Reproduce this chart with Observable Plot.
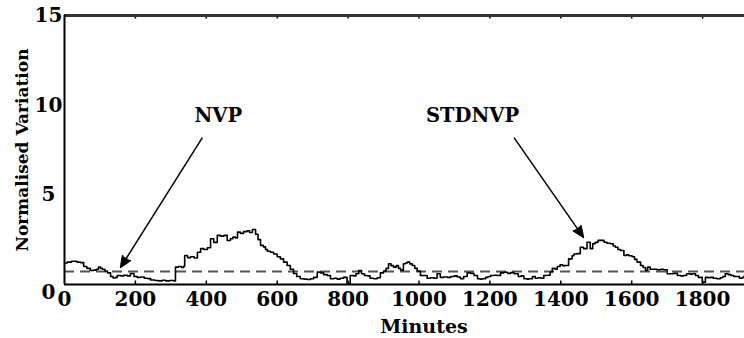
<!DOCTYPE html>
<html>
<head>
<meta charset="utf-8">
<script src="https://cdn.jsdelivr.net/npm/d3@7"></script>
<script src="https://cdn.jsdelivr.net/npm/@observablehq/plot@0.6"></script>
<style>
  html, body { margin: 0; padding: 0; background: #fff; overflow: hidden; }
  #chart { width: 744px; height: 338px; overflow: hidden; }
  #chart svg { max-width: none !important; }
</style>
</head>
<body>
<div id="chart"></div>
<script>
// Minutes at which the normalised variation was read
const minutes = [0,8,20,35,45,54,63,73,82,90,96,102,107,114,121,130,137,144,149,158,167,177,186,196,205,215,225,235,243,255,265,275,285,296,308,313,322,330,336,339,347,356,366,375,384,393,403,412,421,431,440,450,459,468,475,482,488,496,505,515,522,530,539,546,553,561,567,572,581,590,600,609,618,628,637,646,655,665,675,685,694,703,713,722,731,741,750,760,769,778,787,797,806,815,822,830,838,846,855,862,872,882,891,900,907,914,921,928,936,942,948,956,962,967,974,981,988,995,1004,1014,1023,1032,1042,1051,1060,1070,1080,1090,1100,1108,1117,1126,1136,1146,1155,1165,1172,1178,1188,1195,1202,1212,1221,1230,1240,1250,1258,1268,1280,1288,1296,1305,1310,1320,1328,1336,1344,1352,1362,1370,1376,1384,1390,1398,1405,1413,1422,1432,1437,1446,1455,1464,1474,1483,1490,1497,1505,1515,1522,1530,1540,1548,1554,1561,1568,1578,1585,1592,1601,1608,1615,1625,1632,1639,1645,1652,1662,1672,1681,1690,1700,1709,1718,1729,1738,1746,1755,1764,1772,1780,1788,1799,1808,1815,1822,1830,1840,1850,1857,1864,1872,1880,1888,1896,1904,1912,1918];
// NVP values
const nvp = [1.2,1.25,1.3,1.25,1.22,1.0,0.9,0.78,0.8,0.85,0.97,0.9,0.85,0.75,0.65,0.45,0.36,0.4,0.5,0.48,0.52,0.48,0.61,0.45,0.4,0.42,0.35,0.33,0.25,0.22,0.2,0.24,0.2,0.22,0.2,0.97,1.0,0.95,1.02,1.62,1.5,1.55,1.48,1.8,2.0,1.95,2.05,2.55,2.35,2.74,2.7,2.74,2.45,2.55,2.65,2.6,2.92,2.85,2.95,3.0,2.9,3.07,2.8,2.5,2.18,2.1,1.95,1.85,1.8,1.7,1.55,1.43,1.25,1.06,0.85,0.61,0.45,0.32,0.3,0.28,0.32,0.4,0.69,0.65,0.55,0.5,0.32,0.35,0.3,0.35,0.4,0.05,0.5,0.48,0.6,0.78,0.6,0.5,0.48,0.35,0.32,0.38,0.65,0.75,0.9,1.16,1.05,0.97,1.05,0.9,0.8,1.16,1.2,1.25,1.15,1.06,0.9,0.75,0.5,0.5,0.35,0.38,0.35,0.6,0.4,0.42,0.4,0.45,0.48,0.42,0.32,0.45,0.65,0.62,0.5,0.32,0.3,0.32,0.4,0.45,0.5,0.52,0.5,0.65,0.68,0.62,0.66,0.6,0.45,0.48,0.32,0.3,0.32,0.45,0.35,0.38,0.35,0.5,0.52,0.7,0.9,0.85,1.0,1.1,1.05,1.06,1.43,1.6,1.7,1.72,2.08,2.0,2.36,2.0,2.27,2.35,2.46,2.46,2.36,2.3,2.27,2.15,2.08,1.95,1.9,1.62,1.65,1.6,1.55,1.4,1.25,1.06,0.95,0.78,0.97,0.85,0.85,0.82,0.85,0.82,0.6,0.6,0.62,0.5,0.48,0.5,0.6,0.58,0.6,0.5,0.4,0.13,0.4,0.38,0.4,0.35,0.32,0.38,0.45,0.6,0.55,0.5,0.45,0.45,0.35,0.4,0.5];
// STDNVP threshold (constant)
const stdnvp = 0.72;

const xTicks = [0,200,400,600,800,1000,1200,1400,1600,1800];
const yTicks = [5,10,15];

// Annotations
const labelNames = ["NVP", "STDNVP"];
const labelX = [434, 1151];
const labelY = [9.4, 9.4];
const arrowX1 = [388, 1269];
const arrowY1 = [8.16, 8.16];
const arrowX2 = [158, 1464];
const arrowY2 = [0.95, 2.63];

const series = minutes.map((m, i) => ({m, v: nvp[i]}));
const labels = labelNames.map((t, i) => ({t, x: labelX[i], y: labelY[i]}));
const arrows = arrowX1.map((x1, i) => ({x1, y1: arrowY1[i], x2: arrowX2[i], y2: arrowY2[i]}));

const chart = Plot.plot({
  width: 773,
  height: 338,
  marginLeft: 64,
  marginRight: 0,
  marginTop: 15,
  marginBottom: 54,
  style: {fontFamily: "DejaVu Serif", fontWeight: "bold", fontSize: "20px", color: "black", background: "white", maxWidth: "none"},
  x: {domain: [0, 2000]},
  y: {domain: [0, 15]},
  marks: [
    Plot.axisX({ticks: xTicks, tickFormat: d => String(d), tickSize: 0, tickPadding: 7, fontSize: 20, style: "letter-spacing:0.5px"}),
    Plot.axisY({ticks: yTicks, tickFormat: d => String(d), tickSize: 0, tickPadding: 16, textAnchor: "middle", fontSize: 20}),
    Plot.text([0], {x: 0, y: 0, text: d => String(d), dx: -16, dy: 8, fontSize: 20}),
    Plot.ruleY([stdnvp], {stroke: "#555", strokeWidth: 2, strokeDasharray: "10,6"}),
    Plot.line(series, {x: "m", y: "v", stroke: "black", strokeWidth: 1.6, curve: "step-after"}),
    Plot.ruleX(xTicks.slice(1), {y1: 0, y2: 0.2, stroke: "black", strokeWidth: 1.5}),
    Plot.ruleX(xTicks.slice(1), {y1: 14.8, y2: 15, stroke: "black", strokeWidth: 1.5}),
    Plot.ruleY([0], {stroke: "black", strokeWidth: 2}),
    Plot.ruleY([15], {stroke: "#333", strokeWidth: 3}),
    Plot.ruleX([0], {stroke: "black", strokeWidth: 2}),
    Plot.arrow(arrows, {x1: "x1", y1: "y1", x2: "x2", y2: "y2", stroke: "black", fill: "black", strokeWidth: 1.5, headLength: 12, headAngle: 45}),
    Plot.text(labels, {x: "x", y: "y", text: "t", fontSize: 19.5}),
    Plot.text(["Minutes"], {frameAnchor: "bottom", textAnchor: "middle", lineAnchor: "middle", dx: 5, dy: 42, fontSize: 19, text: d => d, style: "letter-spacing:1.5px"}),
    Plot.text(["Normalised Variation"], {frameAnchor: "left", textAnchor: "middle", lineAnchor: "middle", dx: -42, rotate: -90, fontSize: 17, text: d => d})
  ]
});
document.getElementById("chart").appendChild(chart);
</script>
</body>
</html>
